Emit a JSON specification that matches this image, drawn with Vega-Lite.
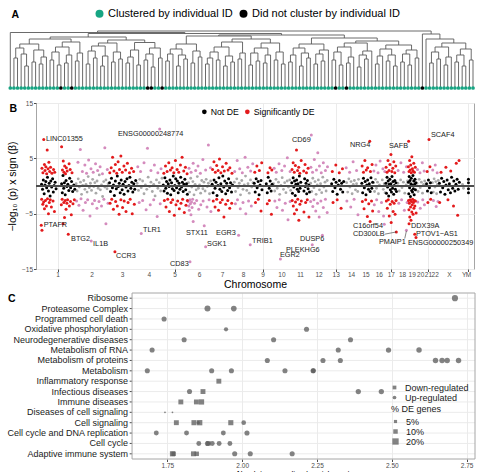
{
  "$schema": "https://vega.github.io/schema/vega-lite/v6.json",
  "padding": {"left": 6, "top": 8, "right": 0, "bottom": 0},
  "background": "white",
  "config": {
    "font": "Liberation Sans",
    "view": {"stroke": "#a6a6a6"},
    "axis": {"domain": false, "tickColor": "#4d4d4d", "gridColor": "#ebebeb", "labelColor": "#4d4d4d", "titleColor": "#000000", "titleFontWeight": "normal"},
    "legend": {"labelColor": "#1a1a1a"}
  },
  "resolve": {"scale": {"color": "independent", "size": "independent", "shape": "independent", "x": "independent", "y": "independent"}},
  "spacing": 2,
  "datasets": {
    "tree": [
      {"a":1,"b":2,"h":30,"ha":0,"hb":0},{"a":4,"b":5,"h":22,"ha":0,"hb":0},{"a":3,"b":4.5,"h":34,"ha":0,"hb":22},{"a":6,"b":7,"h":26,"ha":0,"hb":0},{"a":8,"b":9,"h":24,"ha":0,"hb":0},{"a":8.5,"b":10,"h":31,"ha":24,"hb":0},{"a":1.5,"b":3.75,"h":40,"ha":30,"hb":34},{"a":6.5,"b":9.25,"h":38,"ha":26,"hb":31},{"a":2.625,"b":7.875,"h":44,"ha":40,"hb":38},
      {"a":11,"b":12,"h":28,"ha":0,"hb":0},{"a":13,"b":14,"h":23,"ha":0,"hb":0},{"a":11.5,"b":13.5,"h":36,"ha":28,"hb":23},{"a":15,"b":16,"h":25,"ha":0,"hb":0},{"a":15.5,"b":17,"h":33,"ha":25,"hb":0},{"a":12.5,"b":16.25,"h":41,"ha":36,"hb":33},{"a":18,"b":19,"h":27,"ha":0,"hb":0},{"a":18.5,"b":20,"h":35,"ha":27,"hb":0},{"a":14.375,"b":19.25,"h":46,"ha":41,"hb":35},{"a":5.25,"b":16.8125,"h":49,"ha":44,"hb":46},
      {"a":21,"b":22,"h":24,"ha":0,"hb":0},{"a":23,"b":24,"h":30,"ha":0,"hb":0},{"a":21.5,"b":23.5,"h":37,"ha":24,"hb":30},{"a":25,"b":26,"h":22,"ha":0,"hb":0},{"a":25.5,"b":27,"h":32,"ha":22,"hb":0},{"a":22.5,"b":26.25,"h":42,"ha":37,"hb":32},{"a":28,"b":29,"h":26,"ha":0,"hb":0},{"a":30,"b":31,"h":29,"ha":0,"hb":0},{"a":28.5,"b":30.5,"h":36,"ha":26,"hb":29},{"a":24.375,"b":29.5,"h":45,"ha":42,"hb":36},
      {"a":32,"b":33,"h":25,"ha":0,"hb":0},{"a":32.5,"b":34,"h":31,"ha":25,"hb":0},{"a":35,"b":36,"h":23,"ha":0,"hb":0},{"a":33.25,"b":35.5,"h":38,"ha":31,"hb":23},{"a":37,"b":38,"h":28,"ha":0,"hb":0},{"a":39,"b":40,"h":21,"ha":0,"hb":0},{"a":37.5,"b":39.5,"h":34,"ha":28,"hb":21},{"a":41,"b":42,"h":30,"ha":0,"hb":0},{"a":38.5,"b":41.5,"h":40,"ha":34,"hb":30},{"a":34.375,"b":40,"h":45.5,"ha":38,"hb":40},{"a":26.9375,"b":37.1875,"h":48,"ha":45,"hb":45.5},{"a":11.03125,"b":32.0625,"h":51,"ha":49,"hb":48},
      {"a":43,"b":44,"h":27,"ha":0,"hb":0},{"a":43.5,"b":45,"h":34,"ha":27,"hb":0},{"a":46,"b":47,"h":22,"ha":0,"hb":0},{"a":48,"b":49,"h":29,"ha":0,"hb":0},{"a":46.5,"b":48.5,"h":33,"ha":22,"hb":29},{"a":44.25,"b":47.5,"h":39,"ha":34,"hb":33},{"a":50,"b":51,"h":25,"ha":0,"hb":0},{"a":52,"b":53,"h":31,"ha":0,"hb":0},{"a":50.5,"b":52.5,"h":37,"ha":25,"hb":31},{"a":45.875,"b":51.5,"h":44,"ha":39,"hb":37},
      {"a":54,"b":55,"h":24,"ha":0,"hb":0},{"a":54.5,"b":56,"h":30,"ha":24,"hb":0},{"a":57,"b":58,"h":28,"ha":0,"hb":0},{"a":55.25,"b":57.5,"h":36,"ha":30,"hb":28},{"a":59,"b":60,"h":22,"ha":0,"hb":0},{"a":61,"b":62,"h":26,"ha":0,"hb":0},{"a":59.5,"b":61.5,"h":32,"ha":22,"hb":26},{"a":56.375,"b":60.5,"h":41,"ha":36,"hb":32},{"a":63,"b":64,"h":29,"ha":0,"hb":0},{"a":63.5,"b":65,"h":35,"ha":29,"hb":0},{"a":58.4375,"b":64.25,"h":46,"ha":41,"hb":35},
      {"a":66,"b":67,"h":23,"ha":0,"hb":0},{"a":68,"b":69,"h":27,"ha":0,"hb":0},{"a":66.5,"b":68.5,"h":35,"ha":23,"hb":27},{"a":70,"b":71,"h":25,"ha":0,"hb":0},{"a":70.5,"b":72,"h":33,"ha":25,"hb":0},{"a":67.5,"b":71.25,"h":40,"ha":35,"hb":33},{"a":73,"b":74,"h":28,"ha":0,"hb":0},{"a":75,"b":76,"h":24,"ha":0,"hb":0},{"a":73.5,"b":75.5,"h":36,"ha":28,"hb":24},{"a":69.375,"b":74.5,"h":45,"ha":40,"hb":36},{"a":61.34375,"b":71.9375,"h":49,"ha":46,"hb":45},{"a":48.6875,"b":66.640625,"h":52,"ha":44,"hb":49},
      {"a":77,"b":78,"h":26,"ha":0,"hb":0},{"a":77.5,"b":79,"h":33,"ha":26,"hb":0},{"a":80,"b":81,"h":22,"ha":0,"hb":0},{"a":82,"b":83,"h":30,"ha":0,"hb":0},{"a":80.5,"b":82.5,"h":35,"ha":22,"hb":30},{"a":78.25,"b":81.5,"h":40,"ha":33,"hb":35},{"a":84,"b":85,"h":24,"ha":0,"hb":0},{"a":86,"b":87,"h":27,"ha":0,"hb":0},{"a":84.5,"b":86.5,"h":34,"ha":24,"hb":27},{"a":85.5,"b":88,"h":38,"ha":34,"hb":0},{"a":79.875,"b":86.75,"h":44,"ha":40,"hb":38},
      {"a":89,"b":90,"h":28,"ha":0,"hb":0},{"a":91,"b":92,"h":23,"ha":0,"hb":0},{"a":89.5,"b":91.5,"h":36,"ha":28,"hb":23},{"a":93,"b":94,"h":25,"ha":0,"hb":0},{"a":93.5,"b":95,"h":31,"ha":25,"hb":0},{"a":90.5,"b":94.25,"h":41,"ha":36,"hb":31},{"a":96,"b":97,"h":21,"ha":0,"hb":0},{"a":98,"b":99,"h":29,"ha":0,"hb":0},{"a":96.5,"b":98.5,"h":33,"ha":21,"hb":29},{"a":97.5,"b":100,"h":37,"ha":33,"hb":0},{"a":92.375,"b":98.75,"h":45,"ha":41,"hb":37},
      {"a":101,"b":102,"h":24,"ha":0,"hb":0},{"a":101.5,"b":103,"h":32,"ha":24,"hb":0},{"a":104,"b":105,"h":27,"ha":0,"hb":0},{"a":106,"b":107,"h":22,"ha":0,"hb":0},{"a":104.5,"b":106.5,"h":33,"ha":27,"hb":22},{"a":102.25,"b":105.5,"h":39,"ha":32,"hb":33},{"a":108,"b":109,"h":26,"ha":0,"hb":0},{"a":110,"b":111,"h":23,"ha":0,"hb":0},{"a":108.5,"b":110.5,"h":34,"ha":26,"hb":23},{"a":112,"b":113,"h":30,"ha":0,"hb":0},{"a":109.5,"b":112.5,"h":38,"ha":34,"hb":30},{"a":103.875,"b":111,"h":43,"ha":39,"hb":38},{"a":95.5625,"b":107.4375,"h":47,"ha":45,"hb":43},{"a":83.3125,"b":101.5,"h":50,"ha":44,"hb":47},{"a":57.6640625,"b":92.40625,"h":53,"ha":52,"hb":50},{"a":21.546875,"b":75.035,"h":54.5,"ha":51,"hb":53},{"a":0,"b":48.29,"h":55.5,"ha":0,"hb":54.5},
      {"a":116,"b":117,"h":25,"ha":0,"hb":0},{"a":118,"b":119,"h":29,"ha":0,"hb":0},{"a":116.5,"b":118.5,"h":36,"ha":25,"hb":29},{"a":120,"b":121,"h":23,"ha":0,"hb":0},{"a":120.5,"b":122,"h":31,"ha":23,"hb":0},{"a":117.5,"b":121.25,"h":41,"ha":36,"hb":31},{"a":123,"b":124,"h":26,"ha":0,"hb":0},{"a":125,"b":126,"h":22,"ha":0,"hb":0},{"a":123.5,"b":125.5,"h":33,"ha":26,"hb":22},{"a":127,"b":128,"h":28,"ha":0,"hb":0},{"a":124.5,"b":127.5,"h":39,"ha":33,"hb":28},{"a":119.375,"b":126,"h":45,"ha":41,"hb":39},{"a":115,"b":122.6875,"h":49,"ha":0,"hb":45},{"a":114,"b":118.84375,"h":54,"ha":0,"hb":49},{"a":24.145,"b":116.42,"h":57,"ha":55.5,"hb":54}
    ],
    "leaves": [
      {"i":0,"g":"y"},{"i":1,"g":"y"},{"i":2,"g":"y"},{"i":3,"g":"y"},{"i":4,"g":"y"},{"i":5,"g":"y"},{"i":6,"g":"y"},{"i":7,"g":"y"},{"i":8,"g":"y"},{"i":9,"g":"y"},
      {"i":10,"g":"y"},{"i":11,"g":"y"},{"i":12,"g":"y"},{"i":13,"g":"y"},{"i":14,"g":"n"},{"i":15,"g":"y"},{"i":16,"g":"y"},{"i":17,"g":"n"},{"i":18,"g":"y"},{"i":19,"g":"y"},
      {"i":20,"g":"y"},{"i":21,"g":"y"},{"i":22,"g":"y"},{"i":23,"g":"y"},{"i":24,"g":"y"},{"i":25,"g":"y"},{"i":26,"g":"y"},{"i":27,"g":"y"},{"i":28,"g":"y"},{"i":29,"g":"y"},
      {"i":30,"g":"y"},{"i":31,"g":"y"},{"i":32,"g":"y"},{"i":33,"g":"y"},{"i":34,"g":"y"},{"i":35,"g":"y"},{"i":36,"g":"y"},{"i":37,"g":"y"},{"i":38,"g":"n"},{"i":39,"g":"n"},
      {"i":40,"g":"y"},{"i":41,"g":"y"},{"i":42,"g":"n"},{"i":43,"g":"y"},{"i":44,"g":"y"},{"i":45,"g":"y"},{"i":46,"g":"y"},{"i":47,"g":"y"},{"i":48,"g":"y"},{"i":49,"g":"y"},
      {"i":50,"g":"y"},{"i":51,"g":"y"},{"i":52,"g":"y"},{"i":53,"g":"y"},{"i":54,"g":"y"},{"i":55,"g":"y"},{"i":56,"g":"y"},{"i":57,"g":"y"},{"i":58,"g":"y"},{"i":59,"g":"y"},
      {"i":60,"g":"y"},{"i":61,"g":"y"},{"i":62,"g":"y"},{"i":63,"g":"y"},{"i":64,"g":"y"},{"i":65,"g":"y"},{"i":66,"g":"y"},{"i":67,"g":"y"},{"i":68,"g":"y"},{"i":69,"g":"y"},
      {"i":70,"g":"y"},{"i":71,"g":"y"},{"i":72,"g":"y"},{"i":73,"g":"y"},{"i":74,"g":"y"},{"i":75,"g":"y"},{"i":76,"g":"y"},{"i":77,"g":"y"},{"i":78,"g":"y"},{"i":79,"g":"y"},
      {"i":80,"g":"y"},{"i":81,"g":"y"},{"i":82,"g":"y"},{"i":83,"g":"y"},{"i":84,"g":"y"},{"i":85,"g":"y"},{"i":86,"g":"y"},{"i":87,"g":"y"},{"i":88,"g":"y"},{"i":89,"g":"y"},
      {"i":90,"g":"n"},{"i":91,"g":"y"},{"i":92,"g":"y"},{"i":93,"g":"n"},{"i":94,"g":"y"},{"i":95,"g":"y"},{"i":96,"g":"y"},{"i":97,"g":"y"},{"i":98,"g":"y"},{"i":99,"g":"y"},
      {"i":100,"g":"y"},{"i":101,"g":"y"},{"i":102,"g":"y"},{"i":103,"g":"y"},{"i":104,"g":"y"},{"i":105,"g":"y"},{"i":106,"g":"y"},{"i":107,"g":"y"},{"i":108,"g":"y"},{"i":109,"g":"y"},
      {"i":110,"g":"y"},{"i":111,"g":"y"},{"i":112,"g":"y"},{"i":113,"g":"y"},{"i":114,"g":"n"},{"i":115,"g":"y"},{"i":116,"g":"y"},{"i":117,"g":"y"},{"i":118,"g":"y"},{"i":119,"g":"y"},
      {"i":120,"g":"y"},{"i":121,"g":"y"},{"i":122,"g":"y"},{"i":123,"g":"y"},{"i":124,"g":"y"},{"i":125,"g":"y"},{"i":126,"g":"y"},{"i":127,"g":"y"},{"i":128,"g":"y"}
    ],
    "chroms": [
      {"n":"1","m":124.5},{"n":"2","m":370},{"n":"3","m":590},{"n":"4","m":784},{"n":"5","m":970},{"n":"6","m":1146.5},{"n":"7","m":1311.5},{"n":"8","m":1463.5},{"n":"9","m":1605},{"n":"10","m":1741},{"n":"11","m":1875.5},{"n":"12","m":2009.5},{"n":"13","m":2133},
      {"n":"14","m":2243.5},{"n":"15","m":2348},{"n":"16","m":2444},{"n":"17","m":2530.5},{"n":"18","m":2612},{"n":"19","m":2681.5},{"n":"20","m":2743},{"n":"21","m":2798.5},{"n":"22","m":2847.5},{"n":"X","m":2951},{"n":"Y","m":3057.5},{"n":"M","m":3088}
    ],
    "snp": [
      {"c":1,"p":5,"v":0.3,"d":"N"},{"c":1,"p":12,"v":-0.6,"d":"N"},{"c":1,"p":18,"v":1.1,"d":"N"},{"c":1,"p":24,"v":-1.4,"d":"N"},{"c":1,"p":30,"v":0.2,"d":"N"},{"c":1,"p":36,"v":0.8,"d":"N"},{"c":1,"p":42,"v":-0.3,"d":"N"},{"c":1,"p":48,"v":1.6,"d":"N"},{"c":1,"p":55,"v":-0.9,"d":"N"},{"c":1,"p":60,"v":0.5,"d":"N"},{"c":1,"p":67,"v":-1.8,"d":"N"},{"c":1,"p":72,"v":0.9,"d":"N"},{"c":1,"p":78,"v":-0.2,"d":"N"},{"c":1,"p":85,"v":1.3,"d":"N"},{"c":1,"p":90,"v":-1.1,"d":"N"},{"c":1,"p":96,"v":0.1,"d":"N"},{"c":1,"p":103,"v":0.7,"d":"N"},{"c":1,"p":110,"v":-0.5,"d":"N"},{"c":1,"p":150,"v":0.4,"d":"N"},{"c":1,"p":155,"v":-1.2,"d":"N"},{"c":1,"p":160,"v":1.9,"d":"N"},{"c":1,"p":165,"v":-0.4,"d":"N"},{"c":1,"p":170,"v":0.6,"d":"N"},{"c":1,"p":176,"v":-1.6,"d":"N"},{"c":1,"p":182,"v":1.0,"d":"N"},{"c":1,"p":188,"v":-0.1,"d":"N"},{"c":1,"p":195,"v":0.3,"d":"N"},{"c":1,"p":202,"v":-0.8,"d":"N"},{"c":1,"p":208,"v":1.4,"d":"N"},{"c":1,"p":215,"v":-0.3,"d":"N"},{"c":1,"p":222,"v":0.8,"d":"N"},{"c":1,"p":230,"v":-1.0,"d":"N"},{"c":1,"p":238,"v":0.2,"d":"N"},{"c":1,"p":245,"v":-0.6,"d":"N"},
      {"c":2,"p":255,"v":0.4,"d":"N"},{"c":2,"p":262,"v":-0.9,"d":"N"},{"c":2,"p":270,"v":1.3,"d":"N"},{"c":2,"p":278,"v":-0.2,"d":"N"},{"c":2,"p":286,"v":0.7,"d":"N"},{"c":2,"p":294,"v":-1.5,"d":"N"},{"c":2,"p":302,"v":0.1,"d":"N"},{"c":2,"p":310,"v":1.0,"d":"N"},{"c":2,"p":318,"v":-0.6,"d":"N"},{"c":2,"p":326,"v":0.3,"d":"N"},{"c":2,"p":334,"v":-1.1,"d":"N"},{"c":2,"p":342,"v":1.7,"d":"N"},{"c":2,"p":350,"v":-0.3,"d":"N"},{"c":2,"p":358,"v":0.5,"d":"N"},{"c":2,"p":366,"v":-0.8,"d":"N"},{"c":2,"p":374,"v":1.2,"d":"N"},{"c":2,"p":382,"v":-0.1,"d":"N"},{"c":2,"p":390,"v":0.6,"d":"N"},{"c":2,"p":398,"v":-1.3,"d":"N"},{"c":2,"p":406,"v":0.9,"d":"N"},{"c":2,"p":414,"v":-0.4,"d":"N"},{"c":2,"p":422,"v":2.0,"d":"N"},{"c":2,"p":430,"v":-0.7,"d":"N"},{"c":2,"p":438,"v":0.2,"d":"N"},{"c":2,"p":446,"v":-1.9,"d":"N"},{"c":2,"p":454,"v":0.8,"d":"N"},{"c":2,"p":462,"v":-0.2,"d":"N"},{"c":2,"p":470,"v":1.1,"d":"N"},{"c":2,"p":478,"v":-0.5,"d":"N"},{"c":2,"p":486,"v":0.4,"d":"N"},
      {"c":3,"p":496,"v":0.6,"d":"N"},{"c":3,"p":503,"v":-1.0,"d":"N"},{"c":3,"p":510,"v":1.4,"d":"N"},{"c":3,"p":517,"v":-0.3,"d":"N"},{"c":3,"p":524,"v":0.2,"d":"N"},{"c":3,"p":531,"v":-1.7,"d":"N"},{"c":3,"p":538,"v":0.9,"d":"N"},{"c":3,"p":545,"v":-0.5,"d":"N"},{"c":3,"p":552,"v":1.8,"d":"N"},{"c":3,"p":559,"v":-0.1,"d":"N"},{"c":3,"p":566,"v":0.5,"d":"N"},{"c":3,"p":573,"v":-1.2,"d":"N"},{"c":3,"p":580,"v":1.1,"d":"N"},{"c":3,"p":587,"v":-0.7,"d":"N"},{"c":3,"p":594,"v":0.3,"d":"N"},{"c":3,"p":601,"v":-1.5,"d":"N"},{"c":3,"p":608,"v":0.8,"d":"N"},{"c":3,"p":615,"v":-0.2,"d":"N"},{"c":3,"p":622,"v":1.3,"d":"N"},{"c":3,"p":629,"v":-0.9,"d":"N"},{"c":3,"p":636,"v":0.1,"d":"N"},{"c":3,"p":643,"v":1.6,"d":"N"},{"c":3,"p":650,"v":-0.4,"d":"N"},{"c":3,"p":657,"v":0.7,"d":"N"},{"c":3,"p":664,"v":-1.1,"d":"N"},{"c":3,"p":671,"v":0.4,"d":"N"},{"c":3,"p":678,"v":-0.6,"d":"N"},{"c":3,"p":685,"v":1.0,"d":"N"},
      {"c":4,"p":695,"v":0.5,"d":"N"},{"c":4,"p":705,"v":-0.8,"d":"N"},{"c":4,"p":715,"v":1.2,"d":"N"},{"c":4,"p":725,"v":-0.3,"d":"N"},{"c":4,"p":735,"v":0.9,"d":"N"},{"c":4,"p":745,"v":-1.4,"d":"N"},{"c":4,"p":755,"v":0.2,"d":"N"},{"c":4,"p":765,"v":-0.6,"d":"N"},{"c":4,"p":775,"v":1.6,"d":"N"},{"c":4,"p":785,"v":-0.1,"d":"N"},{"c":4,"p":795,"v":0.7,"d":"N"},{"c":4,"p":805,"v":-1.0,"d":"N"},{"c":4,"p":815,"v":0.3,"d":"N"},{"c":4,"p":825,"v":-1.8,"d":"N"},{"c":4,"p":835,"v":1.1,"d":"N"},{"c":4,"p":845,"v":-0.4,"d":"N"},{"c":4,"p":855,"v":0.6,"d":"N"},{"c":4,"p":865,"v":-0.9,"d":"N"},{"c":4,"p":875,"v":1.4,"d":"N"},
      {"c":5,"p":884,"v":0.2,"d":"N"},{"c":5,"p":890,"v":-0.9,"d":"N"},{"c":5,"p":896,"v":1.5,"d":"N"},{"c":5,"p":902,"v":-0.4,"d":"N"},{"c":5,"p":908,"v":0.8,"d":"N"},{"c":5,"p":914,"v":-1.3,"d":"N"},{"c":5,"p":920,"v":0.4,"d":"N"},{"c":5,"p":926,"v":-0.1,"d":"N"},{"c":5,"p":932,"v":1.1,"d":"N"},{"c":5,"p":938,"v":-1.6,"d":"N"},{"c":5,"p":944,"v":0.6,"d":"N"},{"c":5,"p":950,"v":-0.5,"d":"N"},{"c":5,"p":956,"v":1.8,"d":"N"},{"c":5,"p":962,"v":-0.8,"d":"N"},{"c":5,"p":968,"v":0.1,"d":"N"},{"c":5,"p":974,"v":1.3,"d":"N"},{"c":5,"p":980,"v":-0.3,"d":"N"},{"c":5,"p":986,"v":0.9,"d":"N"},{"c":5,"p":992,"v":-1.2,"d":"N"},{"c":5,"p":998,"v":0.5,"d":"N"},{"c":5,"p":1004,"v":-0.6,"d":"N"},{"c":5,"p":1010,"v":1.6,"d":"N"},{"c":5,"p":1016,"v":-0.2,"d":"N"},{"c":5,"p":1022,"v":0.7,"d":"N"},{"c":5,"p":1028,"v":-1.0,"d":"N"},{"c":5,"p":1034,"v":0.3,"d":"N"},{"c":5,"p":1040,"v":1.2,"d":"N"},{"c":5,"p":1046,"v":-0.7,"d":"N"},{"c":5,"p":1052,"v":0.4,"d":"N"},{"c":5,"p":1058,"v":-1.5,"d":"N"},
      {"c":6,"p":1066,"v":0.6,"d":"N"},{"c":6,"p":1074,"v":-1.1,"d":"N"},{"c":6,"p":1082,"v":1.4,"d":"N"},{"c":6,"p":1090,"v":-0.2,"d":"N"},{"c":6,"p":1098,"v":0.8,"d":"N"},{"c":6,"p":1106,"v":-1.6,"d":"N"},{"c":6,"p":1114,"v":0.3,"d":"N"},{"c":6,"p":1122,"v":-0.7,"d":"N"},{"c":6,"p":1130,"v":1.7,"d":"N"},{"c":6,"p":1138,"v":-0.4,"d":"N"},{"c":6,"p":1146,"v":0.2,"d":"N"},{"c":6,"p":1154,"v":-1.3,"d":"N"},{"c":6,"p":1162,"v":1.0,"d":"N"},{"c":6,"p":1170,"v":-0.5,"d":"N"},{"c":6,"p":1178,"v":0.7,"d":"N"},{"c":6,"p":1186,"v":-0.9,"d":"N"},{"c":6,"p":1194,"v":1.2,"d":"N"},{"c":6,"p":1202,"v":-0.1,"d":"N"},{"c":6,"p":1210,"v":0.5,"d":"N"},{"c":6,"p":1218,"v":-1.4,"d":"N"},{"c":6,"p":1226,"v":0.9,"d":"N"},
      {"c":7,"p":1237,"v":0.3,"d":"N"},{"c":7,"p":1244,"v":-1.2,"d":"N"},{"c":7,"p":1251,"v":1.1,"d":"N"},{"c":7,"p":1258,"v":-0.4,"d":"N"},{"c":7,"p":1265,"v":0.7,"d":"N"},{"c":7,"p":1272,"v":-1.7,"d":"N"},{"c":7,"p":1279,"v":0.1,"d":"N"},{"c":7,"p":1286,"v":1.5,"d":"N"},{"c":7,"p":1293,"v":-0.6,"d":"N"},{"c":7,"p":1300,"v":0.4,"d":"N"},{"c":7,"p":1307,"v":-1.0,"d":"N"},{"c":7,"p":1314,"v":1.8,"d":"N"},{"c":7,"p":1321,"v":-0.2,"d":"N"},{"c":7,"p":1328,"v":0.9,"d":"N"},{"c":7,"p":1335,"v":-1.4,"d":"N"},{"c":7,"p":1342,"v":0.5,"d":"N"},{"c":7,"p":1349,"v":-0.8,"d":"N"},{"c":7,"p":1356,"v":1.3,"d":"N"},{"c":7,"p":1363,"v":-0.3,"d":"N"},{"c":7,"p":1370,"v":0.6,"d":"N"},{"c":7,"p":1377,"v":-1.1,"d":"N"},{"c":7,"p":1384,"v":0.2,"d":"N"},
      {"c":8,"p":1397,"v":0.7,"d":"N"},{"c":8,"p":1406,"v":-1.0,"d":"N"},{"c":8,"p":1415,"v":1.3,"d":"N"},{"c":8,"p":1424,"v":-0.3,"d":"N"},{"c":8,"p":1433,"v":0.5,"d":"N"},{"c":8,"p":1442,"v":-1.6,"d":"N"},{"c":8,"p":1451,"v":1.0,"d":"N"},{"c":8,"p":1460,"v":-0.6,"d":"N"},{"c":8,"p":1469,"v":0.2,"d":"N"},{"c":8,"p":1478,"v":1.8,"d":"N"},{"c":8,"p":1487,"v":-0.8,"d":"N"},{"c":8,"p":1496,"v":0.4,"d":"N"},{"c":8,"p":1505,"v":-1.3,"d":"N"},{"c":8,"p":1514,"v":1.1,"d":"N"},{"c":8,"p":1523,"v":-0.2,"d":"N"},{"c":8,"p":1532,"v":0.6,"d":"N"},
      {"c":9,"p":1541,"v":0.5,"d":"N"},{"c":9,"p":1548,"v":-1.1,"d":"N"},{"c":9,"p":1555,"v":1.3,"d":"N"},{"c":9,"p":1562,"v":-0.3,"d":"N"},{"c":9,"p":1569,"v":0.8,"d":"N"},{"c":9,"p":1576,"v":-1.6,"d":"N"},{"c":9,"p":1583,"v":0.2,"d":"N"},{"c":9,"p":1590,"v":1.0,"d":"N"},{"c":9,"p":1597,"v":-0.7,"d":"N"},{"c":9,"p":1628,"v":0.4,"d":"N"},{"c":9,"p":1635,"v":-1.2,"d":"N"},{"c":9,"p":1642,"v":1.6,"d":"N"},{"c":9,"p":1649,"v":-0.4,"d":"N"},{"c":9,"p":1656,"v":0.9,"d":"N"},{"c":9,"p":1663,"v":-0.9,"d":"N"},{"c":9,"p":1670,"v":0.3,"d":"N"},
      {"c":10,"p":1680,"v":0.4,"d":"N"},{"c":10,"p":1689,"v":-0.9,"d":"N"},{"c":10,"p":1698,"v":1.2,"d":"N"},{"c":10,"p":1707,"v":-0.4,"d":"N"},{"c":10,"p":1716,"v":0.7,"d":"N"},{"c":10,"p":1725,"v":-1.5,"d":"N"},{"c":10,"p":1734,"v":0.1,"d":"N"},{"c":10,"p":1743,"v":1.5,"d":"N"},{"c":10,"p":1752,"v":-0.6,"d":"N"},{"c":10,"p":1761,"v":0.6,"d":"N"},{"c":10,"p":1770,"v":-1.2,"d":"N"},{"c":10,"p":1779,"v":0.9,"d":"N"},{"c":10,"p":1788,"v":-0.2,"d":"N"},{"c":10,"p":1797,"v":1.1,"d":"N"},{"c":10,"p":1804,"v":-0.8,"d":"N"},
      {"c":11,"p":1812,"v":0.6,"d":"N"},{"c":11,"p":1817,"v":-1.3,"d":"N"},{"c":11,"p":1822,"v":1.5,"d":"N"},{"c":11,"p":1827,"v":-0.2,"d":"N"},{"c":11,"p":1832,"v":0.9,"d":"N"},{"c":11,"p":1837,"v":-1.7,"d":"N"},{"c":11,"p":1842,"v":0.3,"d":"N"},{"c":11,"p":1847,"v":1.1,"d":"N"},{"c":11,"p":1852,"v":-0.6,"d":"N"},{"c":11,"p":1857,"v":0.4,"d":"N"},{"c":11,"p":1862,"v":-1.0,"d":"N"},{"c":11,"p":1867,"v":1.8,"d":"N"},{"c":11,"p":1872,"v":-0.4,"d":"N"},{"c":11,"p":1877,"v":0.7,"d":"N"},{"c":11,"p":1900,"v":-0.9,"d":"N"},{"c":11,"p":1905,"v":1.3,"d":"N"},{"c":11,"p":1910,"v":-0.1,"d":"N"},{"c":11,"p":1915,"v":0.5,"d":"N"},{"c":11,"p":1920,"v":-1.4,"d":"N"},{"c":11,"p":1925,"v":1.0,"d":"N"},{"c":11,"p":1930,"v":-0.5,"d":"N"},{"c":11,"p":1935,"v":0.2,"d":"N"},{"c":11,"p":1940,"v":-1.1,"d":"N"},
      {"c":12,"p":1948,"v":0.5,"d":"N"},{"c":12,"p":1956,"v":-1.0,"d":"N"},{"c":12,"p":1964,"v":1.4,"d":"N"},{"c":12,"p":1972,"v":-0.3,"d":"N"},{"c":12,"p":1980,"v":0.8,"d":"N"},{"c":12,"p":1988,"v":-1.5,"d":"N"},{"c":12,"p":1996,"v":0.2,"d":"N"},{"c":12,"p":2004,"v":1.1,"d":"N"},{"c":12,"p":2012,"v":-0.7,"d":"N"},{"c":12,"p":2020,"v":0.4,"d":"N"},{"c":12,"p":2028,"v":-1.2,"d":"N"},{"c":12,"p":2036,"v":1.6,"d":"N"},{"c":12,"p":2044,"v":-0.2,"d":"N"},{"c":12,"p":2052,"v":0.7,"d":"N"},{"c":12,"p":2060,"v":-0.9,"d":"N"},{"c":12,"p":2068,"v":1.0,"d":"N"},
      {"c":13,"p":2100,"v":0.4,"d":"N"},{"c":13,"p":2108,"v":-1.0,"d":"N"},{"c":13,"p":2116,"v":1.2,"d":"N"},{"c":13,"p":2124,"v":-0.3,"d":"N"},{"c":13,"p":2132,"v":0.7,"d":"N"},{"c":13,"p":2140,"v":-1.5,"d":"N"},{"c":13,"p":2148,"v":0.2,"d":"N"},{"c":13,"p":2156,"v":1.0,"d":"N"},{"c":13,"p":2164,"v":-0.6,"d":"N"},{"c":13,"p":2172,"v":0.5,"d":"N"},{"c":13,"p":2180,"v":-1.1,"d":"N"},{"c":13,"p":2187,"v":0.8,"d":"N"},
      {"c":14,"p":2208,"v":0.6,"d":"N"},{"c":14,"p":2216,"v":-1.1,"d":"N"},{"c":14,"p":2224,"v":1.3,"d":"N"},{"c":14,"p":2232,"v":-0.2,"d":"N"},{"c":14,"p":2240,"v":0.8,"d":"N"},{"c":14,"p":2248,"v":-1.4,"d":"N"},{"c":14,"p":2256,"v":0.3,"d":"N"},{"c":14,"p":2264,"v":1.0,"d":"N"},{"c":14,"p":2272,"v":-0.7,"d":"N"},{"c":14,"p":2280,"v":0.4,"d":"N"},{"c":14,"p":2288,"v":-1.0,"d":"N"},{"c":14,"p":2294,"v":1.2,"d":"N"},
      {"c":15,"p":2318,"v":0.5,"d":"N"},{"c":15,"p":2324,"v":-1.2,"d":"N"},{"c":15,"p":2330,"v":1.4,"d":"N"},{"c":15,"p":2336,"v":-0.3,"d":"N"},{"c":15,"p":2342,"v":0.8,"d":"N"},{"c":15,"p":2348,"v":-1.6,"d":"N"},{"c":15,"p":2354,"v":0.2,"d":"N"},{"c":15,"p":2360,"v":1.1,"d":"N"},{"c":15,"p":2366,"v":-0.6,"d":"N"},{"c":15,"p":2372,"v":0.4,"d":"N"},{"c":15,"p":2378,"v":-1.0,"d":"N"},{"c":15,"p":2384,"v":1.5,"d":"N"},{"c":15,"p":2390,"v":-0.4,"d":"N"},{"c":15,"p":2396,"v":0.7,"d":"N"},
      {"c":16,"p":2403,"v":0.6,"d":"N"},{"c":16,"p":2410,"v":-1.0,"d":"N"},{"c":16,"p":2417,"v":1.2,"d":"N"},{"c":16,"p":2424,"v":-0.4,"d":"N"},{"c":16,"p":2431,"v":0.7,"d":"N"},{"c":16,"p":2438,"v":-1.4,"d":"N"},{"c":16,"p":2445,"v":0.2,"d":"N"},{"c":16,"p":2466,"v":1.1,"d":"N"},{"c":16,"p":2473,"v":-0.6,"d":"N"},{"c":16,"p":2480,"v":0.4,"d":"N"},{"c":16,"p":2486,"v":-1.2,"d":"N"},
      {"c":17,"p":2492,"v":0.5,"d":"N"},{"c":17,"p":2496,"v":-1.3,"d":"N"},{"c":17,"p":2500,"v":1.6,"d":"N"},{"c":17,"p":2504,"v":-0.2,"d":"N"},{"c":17,"p":2508,"v":0.9,"d":"N"},{"c":17,"p":2512,"v":-1.8,"d":"N"},{"c":17,"p":2516,"v":0.3,"d":"N"},{"c":17,"p":2520,"v":1.2,"d":"N"},{"c":17,"p":2524,"v":-0.7,"d":"N"},{"c":17,"p":2528,"v":0.4,"d":"N"},{"c":17,"p":2532,"v":-1.1,"d":"N"},{"c":17,"p":2536,"v":1.7,"d":"N"},{"c":17,"p":2540,"v":-0.4,"d":"N"},{"c":17,"p":2544,"v":0.8,"d":"N"},{"c":17,"p":2548,"v":-1.5,"d":"N"},{"c":17,"p":2552,"v":0.1,"d":"N"},{"c":17,"p":2556,"v":1.0,"d":"N"},{"c":17,"p":2560,"v":-0.6,"d":"N"},{"c":17,"p":2564,"v":0.6,"d":"N"},{"c":17,"p":2568,"v":-1.0,"d":"N"},
      {"c":18,"p":2578,"v":0.5,"d":"N"},{"c":18,"p":2588,"v":-0.9,"d":"N"},{"c":18,"p":2598,"v":1.1,"d":"N"},{"c":18,"p":2608,"v":-0.3,"d":"N"},{"c":18,"p":2618,"v":0.7,"d":"N"},{"c":18,"p":2628,"v":-1.3,"d":"N"},{"c":18,"p":2638,"v":0.2,"d":"N"},{"c":18,"p":2648,"v":0.9,"d":"N"},
      {"c":19,"p":2654,"v":0.7,"d":"N"},{"c":19,"p":2657,"v":-1.4,"d":"N"},{"c":19,"p":2660,"v":1.7,"d":"N"},{"c":19,"p":2663,"v":-0.3,"d":"N"},{"c":19,"p":2666,"v":1.0,"d":"N"},{"c":19,"p":2669,"v":-1.9,"d":"N"},{"c":19,"p":2672,"v":0.4,"d":"N"},{"c":19,"p":2675,"v":1.4,"d":"N"},{"c":19,"p":2678,"v":-0.8,"d":"N"},{"c":19,"p":2681,"v":0.2,"d":"N"},{"c":19,"p":2684,"v":-1.1,"d":"N"},{"c":19,"p":2687,"v":1.9,"d":"N"},{"c":19,"p":2690,"v":-0.5,"d":"N"},{"c":19,"p":2693,"v":0.9,"d":"N"},{"c":19,"p":2696,"v":-1.6,"d":"N"},{"c":19,"p":2699,"v":0.3,"d":"N"},{"c":19,"p":2702,"v":1.2,"d":"N"},{"c":19,"p":2705,"v":-0.7,"d":"N"},{"c":19,"p":2708,"v":0.6,"d":"N"},
      {"c":20,"p":2716,"v":0.5,"d":"N"},{"c":20,"p":2724,"v":-1.0,"d":"N"},{"c":20,"p":2732,"v":1.2,"d":"N"},{"c":20,"p":2740,"v":-0.3,"d":"N"},{"c":20,"p":2748,"v":0.7,"d":"N"},{"c":20,"p":2756,"v":-1.3,"d":"N"},{"c":20,"p":2764,"v":0.3,"d":"N"},{"c":20,"p":2772,"v":0.9,"d":"N"},
      {"c":21,"p":2785,"v":0.4,"d":"N"},{"c":21,"p":2792,"v":-0.9,"d":"N"},{"c":21,"p":2799,"v":1.1,"d":"N"},{"c":21,"p":2806,"v":-0.3,"d":"N"},{"c":21,"p":2813,"v":0.6,"d":"N"},{"c":21,"p":2819,"v":-1.2,"d":"N"},
      {"c":22,"p":2828,"v":0.6,"d":"N"},{"c":22,"p":2834,"v":-1.1,"d":"N"},{"c":22,"p":2840,"v":1.3,"d":"N"},{"c":22,"p":2846,"v":-0.2,"d":"N"},{"c":22,"p":2852,"v":0.8,"d":"N"},{"c":22,"p":2858,"v":-1.4,"d":"N"},{"c":22,"p":2864,"v":0.3,"d":"N"},{"c":22,"p":2870,"v":1.0,"d":"N"},
      {"c":23,"p":2878,"v":0.5,"d":"N"},{"c":23,"p":2886,"v":-1.1,"d":"N"},{"c":23,"p":2894,"v":1.4,"d":"N"},{"c":23,"p":2902,"v":-0.3,"d":"N"},{"c":23,"p":2910,"v":0.8,"d":"N"},{"c":23,"p":2918,"v":-1.5,"d":"N"},{"c":23,"p":2926,"v":0.2,"d":"N"},{"c":23,"p":2934,"v":1.1,"d":"N"},{"c":23,"p":2942,"v":-0.7,"d":"N"},{"c":23,"p":2950,"v":0.4,"d":"N"},{"c":23,"p":2958,"v":-1.2,"d":"N"},{"c":23,"p":2966,"v":1.6,"d":"N"},{"c":23,"p":2974,"v":-0.4,"d":"N"},{"c":23,"p":2982,"v":0.9,"d":"N"},{"c":23,"p":2990,"v":-0.9,"d":"N"},{"c":23,"p":2998,"v":0.3,"d":"N"},{"c":23,"p":3006,"v":1.2,"d":"N"},{"c":23,"p":3014,"v":-0.6,"d":"N"},{"c":23,"p":3022,"v":0.7,"d":"N"},
      {"c":24,"p":3045,"v":0.3,"d":"N"},{"c":24,"p":3052,"v":-0.4,"d":"N"},
      {"c":25,"p":3088,"v":1.2,"d":"N"},{"c":25,"p":3088,"v":-1.2,"d":"N"},{"c":25,"p":3088,"v":0.6,"d":"N"},{"c":25,"p":3088,"v":-0.5,"d":"N"},
      {"c":1,"p":8,"v":3.2,"d":"S"},{"c":1,"p":15,"v":2.4,"d":"S"},{"c":1,"p":21,"v":8.4,"d":"S"},{"c":1,"p":26,"v":3.9,"d":"S"},{"c":1,"p":30,"v":2.8,"d":"S"},{"c":1,"p":36,"v":3.5,"d":"S"},{"c":1,"p":42,"v":2.2,"d":"S"},{"c":1,"p":46,"v":6.5,"d":"S"},{"c":1,"p":52,"v":3.1,"d":"S"},{"c":1,"p":58,"v":4.3,"d":"S"},{"c":1,"p":64,"v":2.6,"d":"S"},{"c":1,"p":70,"v":3.4,"d":"S"},{"c":1,"p":80,"v":2.3,"d":"S"},{"c":1,"p":92,"v":3.0,"d":"S"},{"c":1,"p":100,"v":2.5,"d":"S"},{"c":1,"p":150,"v":7.1,"d":"S"},{"c":1,"p":156,"v":2.9,"d":"S"},{"c":1,"p":162,"v":4.5,"d":"S"},{"c":1,"p":167,"v":2.5,"d":"S"},{"c":1,"p":172,"v":3.6,"d":"S"},{"c":1,"p":178,"v":2.2,"d":"S"},{"c":1,"p":184,"v":3.3,"d":"S"},{"c":1,"p":190,"v":2.7,"d":"S"},{"c":1,"p":204,"v":4.0,"d":"S"},{"c":1,"p":212,"v":3.0,"d":"S"},{"c":1,"p":225,"v":2.4,"d":"S"},
      {"c":1,"p":3,"v":-7.1,"d":"S"},{"c":1,"p":8,"v":-8.0,"d":"S"},{"c":1,"p":6,"v":-2.4,"d":"S"},{"c":1,"p":14,"v":-3.3,"d":"S"},{"c":1,"p":20,"v":-2.9,"d":"S"},{"c":1,"p":26,"v":-4.1,"d":"S"},{"c":1,"p":33,"v":-2.6,"d":"S"},{"c":1,"p":40,"v":-3.6,"d":"S"},{"c":1,"p":48,"v":-2.3,"d":"S"},{"c":1,"p":55,"v":-5.0,"d":"S"},{"c":1,"p":61,"v":-3.0,"d":"S"},{"c":1,"p":68,"v":-2.5,"d":"S"},{"c":1,"p":76,"v":-3.8,"d":"S"},{"c":1,"p":88,"v":-2.7,"d":"S"},{"c":1,"p":98,"v":-4.6,"d":"S"},{"c":1,"p":148,"v":-3.4,"d":"S"},{"c":1,"p":154,"v":-2.4,"d":"S"},{"c":1,"p":160,"v":-6.8,"d":"S"},{"c":1,"p":166,"v":-3.0,"d":"S"},{"c":1,"p":171,"v":-5.7,"d":"S"},{"c":1,"p":176,"v":-2.6,"d":"S"},{"c":1,"p":182,"v":-4.2,"d":"S"},{"c":1,"p":188,"v":-3.1,"d":"S"},{"c":1,"p":193,"v":-2.5,"d":"S"},{"c":1,"p":198,"v":-8.7,"d":"S"},{"c":1,"p":206,"v":-3.6,"d":"S"},{"c":1,"p":214,"v":-2.8,"d":"S"},{"c":1,"p":220,"v":-5.2,"d":"S"},{"c":1,"p":232,"v":-3.2,"d":"S"},{"c":1,"p":242,"v":-2.5,"d":"S"},
      {"c":2,"p":268,"v":4.3,"d":"S"},{"c":2,"p":285,"v":6.6,"d":"S"},{"c":2,"p":300,"v":2.6,"d":"S"},{"c":2,"p":318,"v":3.8,"d":"S"},{"c":2,"p":330,"v":2.3,"d":"S"},{"c":2,"p":345,"v":4.7,"d":"S"},{"c":2,"p":362,"v":3.1,"d":"S"},{"c":2,"p":378,"v":2.5,"d":"S"},{"c":2,"p":395,"v":4.0,"d":"S"},{"c":2,"p":410,"v":2.8,"d":"S"},{"c":2,"p":428,"v":3.5,"d":"S"},{"c":2,"p":445,"v":2.2,"d":"S"},{"c":2,"p":462,"v":6.9,"d":"S"},{"c":2,"p":480,"v":3.0,"d":"S"},
      {"c":2,"p":258,"v":-2.7,"d":"S"},{"c":2,"p":275,"v":-3.5,"d":"S"},{"c":2,"p":290,"v":-2.3,"d":"S"},{"c":2,"p":305,"v":-4.4,"d":"S"},{"c":2,"p":322,"v":-3.0,"d":"S"},{"c":2,"p":338,"v":-2.5,"d":"S"},{"c":2,"p":355,"v":-5.4,"d":"S"},{"c":2,"p":364,"v":-9.95,"d":"S"},{"c":2,"p":372,"v":-3.2,"d":"S"},{"c":2,"p":388,"v":-2.6,"d":"S"},{"c":2,"p":405,"v":-4.0,"d":"S"},{"c":2,"p":420,"v":-2.8,"d":"S"},{"c":2,"p":438,"v":-3.6,"d":"S"},{"c":2,"p":455,"v":-2.4,"d":"S"},{"c":2,"p":470,"v":-6.8,"d":"S"},{"c":2,"p":485,"v":-3.1,"d":"S"},
      {"c":3,"p":498,"v":2.4,"d":"S"},{"c":3,"p":508,"v":3.3,"d":"S"},{"c":3,"p":518,"v":5.2,"d":"S"},{"c":3,"p":528,"v":2.7,"d":"S"},{"c":3,"p":538,"v":3.9,"d":"S"},{"c":3,"p":548,"v":2.3,"d":"S"},{"c":3,"p":558,"v":4.4,"d":"S"},{"c":3,"p":568,"v":3.0,"d":"S"},{"c":3,"p":578,"v":5.4,"d":"S"},{"c":3,"p":588,"v":2.5,"d":"S"},{"c":3,"p":600,"v":3.6,"d":"S"},{"c":3,"p":612,"v":2.9,"d":"S"},{"c":3,"p":625,"v":4.1,"d":"S"},{"c":3,"p":640,"v":2.4,"d":"S"},{"c":3,"p":655,"v":3.2,"d":"S"},{"c":3,"p":670,"v":2.6,"d":"S"},
      {"c":3,"p":500,"v":-3.1,"d":"S"},{"c":3,"p":512,"v":-2.4,"d":"S"},{"c":3,"p":524,"v":-4.2,"d":"S"},{"c":3,"p":535,"v":-11.9,"d":"S"},{"c":3,"p":540,"v":-2.8,"d":"S"},{"c":3,"p":552,"v":-3.6,"d":"S"},{"c":3,"p":565,"v":-5.1,"d":"S"},{"c":3,"p":578,"v":-2.5,"d":"S"},{"c":3,"p":590,"v":-3.9,"d":"S"},{"c":3,"p":602,"v":-2.7,"d":"S"},{"c":3,"p":615,"v":-4.6,"d":"S"},{"c":3,"p":630,"v":-3.0,"d":"S"},{"c":3,"p":645,"v":-2.4,"d":"S"},{"c":3,"p":660,"v":-5.0,"d":"S"},{"c":3,"p":675,"v":-3.3,"d":"S"},
      {"c":4,"p":700,"v":3.5,"d":"S"},{"c":4,"p":720,"v":2.6,"d":"S"},{"c":4,"p":745,"v":4.2,"d":"S"},{"c":4,"p":770,"v":6.8,"d":"S"},{"c":4,"p":795,"v":2.8,"d":"S"},{"c":4,"p":820,"v":3.8,"d":"S"},{"c":4,"p":845,"v":2.4,"d":"S"},{"c":4,"p":858,"v":10.3,"d":"S"},{"c":4,"p":868,"v":3.1,"d":"S"},
      {"c":4,"p":710,"v":-3.0,"d":"S"},{"c":4,"p":725,"v":-8.6,"d":"S"},{"c":4,"p":735,"v":-2.6,"d":"S"},{"c":4,"p":760,"v":-4.3,"d":"S"},{"c":4,"p":790,"v":-3.4,"d":"S"},{"c":4,"p":815,"v":-2.5,"d":"S"},{"c":4,"p":840,"v":-5.5,"d":"S"},{"c":4,"p":862,"v":-3.2,"d":"S"},
      {"c":5,"p":888,"v":2.3,"d":"S"},{"c":5,"p":900,"v":3.6,"d":"S"},{"c":5,"p":912,"v":2.6,"d":"S"},{"c":5,"p":924,"v":4.2,"d":"S"},{"c":5,"p":936,"v":2.9,"d":"S"},{"c":5,"p":948,"v":3.3,"d":"S"},{"c":5,"p":960,"v":2.4,"d":"S"},{"c":5,"p":972,"v":4.6,"d":"S"},{"c":5,"p":984,"v":3.0,"d":"S"},{"c":5,"p":996,"v":2.5,"d":"S"},{"c":5,"p":1008,"v":3.8,"d":"S"},{"c":5,"p":1020,"v":5.2,"d":"S"},{"c":5,"p":1032,"v":2.7,"d":"S"},{"c":5,"p":1044,"v":3.4,"d":"S"},{"c":5,"p":1056,"v":2.2,"d":"S"},
      {"c":5,"p":892,"v":-2.6,"d":"S"},{"c":5,"p":904,"v":-3.8,"d":"S"},{"c":5,"p":916,"v":-2.4,"d":"S"},{"c":5,"p":928,"v":-4.6,"d":"S"},{"c":5,"p":940,"v":-3.0,"d":"S"},{"c":5,"p":952,"v":-2.5,"d":"S"},{"c":5,"p":964,"v":-5.3,"d":"S"},{"c":5,"p":976,"v":-3.4,"d":"S"},{"c":5,"p":988,"v":-2.7,"d":"S"},{"c":5,"p":1000,"v":-4.1,"d":"S"},{"c":5,"p":1012,"v":-3.1,"d":"S"},{"c":5,"p":1024,"v":-2.4,"d":"S"},{"c":5,"p":1036,"v":-4.8,"d":"S"},{"c":5,"p":1048,"v":-3.5,"d":"S"},{"c":5,"p":1058,"v":-2.6,"d":"S"},
      {"c":6,"p":1070,"v":3.2,"d":"S"},{"c":6,"p":1085,"v":2.5,"d":"S"},{"c":6,"p":1100,"v":4.1,"d":"S"},{"c":6,"p":1118,"v":2.8,"d":"S"},{"c":6,"p":1135,"v":3.6,"d":"S"},{"c":6,"p":1152,"v":2.3,"d":"S"},{"c":6,"p":1170,"v":4.8,"d":"S"},{"c":6,"p":1190,"v":2.9,"d":"S"},{"c":6,"p":1210,"v":7.4,"d":"S"},{"c":6,"p":1225,"v":3.3,"d":"S"},
      {"c":6,"p":1064,"v":-2.8,"d":"S"},{"c":6,"p":1068,"v":-3.6,"d":"S"},{"c":6,"p":1072,"v":-4.4,"d":"S"},{"c":6,"p":1076,"v":-2.5,"d":"S"},{"c":6,"p":1077,"v":-13.7,"d":"S"},{"c":6,"p":1080,"v":-3.2,"d":"S"},{"c":6,"p":1084,"v":-5.2,"d":"S"},{"c":6,"p":1088,"v":-2.9,"d":"S"},{"c":6,"p":1092,"v":-3.9,"d":"S"},{"c":6,"p":1096,"v":-2.4,"d":"S"},{"c":6,"p":1100,"v":-6.4,"d":"S"},{"c":6,"p":1110,"v":-3.1,"d":"S"},{"c":6,"p":1125,"v":-2.6,"d":"S"},{"c":6,"p":1140,"v":-4.2,"d":"S"},{"c":6,"p":1155,"v":-3.4,"d":"S"},{"c":6,"p":1180,"v":-7.2,"d":"S"},{"c":6,"p":1172,"v":-2.7,"d":"S"},{"c":6,"p":1190,"v":-11.0,"d":"S"},{"c":6,"p":1200,"v":-3.8,"d":"S"},{"c":6,"p":1215,"v":-2.5,"d":"S"},{"c":6,"p":1228,"v":-4.6,"d":"S"},
      {"c":7,"p":1240,"v":3.0,"d":"S"},{"c":7,"p":1250,"v":4.4,"d":"S"},{"c":7,"p":1260,"v":2.5,"d":"S"},{"c":7,"p":1270,"v":3.7,"d":"S"},{"c":7,"p":1280,"v":2.8,"d":"S"},{"c":7,"p":1290,"v":4.9,"d":"S"},{"c":7,"p":1300,"v":2.4,"d":"S"},{"c":7,"p":1312,"v":3.5,"d":"S"},{"c":7,"p":1325,"v":2.7,"d":"S"},{"c":7,"p":1338,"v":4.1,"d":"S"},{"c":7,"p":1352,"v":2.9,"d":"S"},{"c":7,"p":1365,"v":3.3,"d":"S"},{"c":7,"p":1380,"v":2.3,"d":"S"},
      {"c":7,"p":1245,"v":-2.7,"d":"S"},{"c":7,"p":1258,"v":-3.8,"d":"S"},{"c":7,"p":1270,"v":-2.4,"d":"S"},{"c":7,"p":1283,"v":-4.4,"d":"S"},{"c":7,"p":1296,"v":-3.0,"d":"S"},{"c":7,"p":1310,"v":-2.5,"d":"S"},{"c":7,"p":1322,"v":-5.6,"d":"S"},{"c":7,"p":1335,"v":-3.3,"d":"S"},{"c":7,"p":1350,"v":-2.6,"d":"S"},{"c":7,"p":1364,"v":-4.0,"d":"S"},{"c":7,"p":1378,"v":-3.1,"d":"S"},
      {"c":8,"p":1400,"v":2.6,"d":"S"},{"c":8,"p":1418,"v":4.6,"d":"S"},{"c":8,"p":1436,"v":3.1,"d":"S"},{"c":8,"p":1455,"v":2.4,"d":"S"},{"c":8,"p":1475,"v":5.2,"d":"S"},{"c":8,"p":1495,"v":3.4,"d":"S"},{"c":8,"p":1515,"v":2.7,"d":"S"},{"c":8,"p":1530,"v":4.0,"d":"S"},
      {"c":8,"p":1405,"v":-3.2,"d":"S"},{"c":8,"p":1420,"v":-2.5,"d":"S"},{"c":8,"p":1428,"v":-8.9,"d":"S"},{"c":8,"p":1440,"v":-4.1,"d":"S"},{"c":8,"p":1460,"v":-3.0,"d":"S"},{"c":8,"p":1480,"v":-5.0,"d":"S"},{"c":8,"p":1500,"v":-2.7,"d":"S"},{"c":8,"p":1512,"v":-10.6,"d":"S"},{"c":8,"p":1520,"v":-3.6,"d":"S"},
      {"c":9,"p":1545,"v":2.5,"d":"S"},{"c":9,"p":1560,"v":3.6,"d":"S"},{"c":9,"p":1578,"v":2.8,"d":"S"},{"c":9,"p":1595,"v":4.2,"d":"S"},{"c":9,"p":1640,"v":2.4,"d":"S"},{"c":9,"p":1655,"v":3.3,"d":"S"},{"c":9,"p":1668,"v":2.9,"d":"S"},
      {"c":9,"p":1550,"v":-3.0,"d":"S"},{"c":9,"p":1570,"v":-2.4,"d":"S"},{"c":9,"p":1590,"v":-4.5,"d":"S"},{"c":9,"p":1635,"v":-3.2,"d":"S"},{"c":9,"p":1650,"v":-2.6,"d":"S"},{"c":9,"p":1665,"v":-5.1,"d":"S"},
      {"c":10,"p":1685,"v":3.2,"d":"S"},{"c":10,"p":1700,"v":2.5,"d":"S"},{"c":10,"p":1720,"v":4.0,"d":"S"},{"c":10,"p":1740,"v":2.8,"d":"S"},{"c":10,"p":1760,"v":3.6,"d":"S"},{"c":10,"p":1780,"v":5.1,"d":"S"},{"c":10,"p":1800,"v":2.6,"d":"S"},
      {"c":10,"p":1690,"v":-2.7,"d":"S"},{"c":10,"p":1705,"v":-3.9,"d":"S"},{"c":10,"p":1722,"v":-2.5,"d":"S"},{"c":10,"p":1730,"v":-13.2,"d":"S"},{"c":10,"p":1745,"v":-4.4,"d":"S"},{"c":10,"p":1765,"v":-3.1,"d":"S"},{"c":10,"p":1785,"v":-6.1,"d":"S"},{"c":10,"p":1800,"v":-2.8,"d":"S"},
      {"c":11,"p":1814,"v":3.0,"d":"S"},{"c":11,"p":1822,"v":4.2,"d":"S"},{"c":11,"p":1830,"v":2.5,"d":"S"},{"c":11,"p":1838,"v":3.7,"d":"S"},{"c":11,"p":1846,"v":6.5,"d":"S"},{"c":11,"p":1854,"v":2.8,"d":"S"},{"c":11,"p":1862,"v":3.4,"d":"S"},{"c":11,"p":1870,"v":2.3,"d":"S"},{"c":11,"p":1880,"v":4.6,"d":"S"},{"c":11,"p":1898,"v":2.7,"d":"S"},{"c":11,"p":1908,"v":3.9,"d":"S"},{"c":11,"p":1918,"v":2.4,"d":"S"},{"c":11,"p":1930,"v":3.2,"d":"S"},
      {"c":11,"p":1815,"v":-2.6,"d":"S"},{"c":11,"p":1823,"v":-3.6,"d":"S"},{"c":11,"p":1831,"v":-5.0,"d":"S"},{"c":11,"p":1839,"v":-2.9,"d":"S"},{"c":11,"p":1847,"v":-4.3,"d":"S"},{"c":11,"p":1855,"v":-2.4,"d":"S"},{"c":11,"p":1863,"v":-6.2,"d":"S"},{"c":11,"p":1871,"v":-3.3,"d":"S"},{"c":11,"p":1881,"v":-2.7,"d":"S"},{"c":11,"p":1900,"v":-4.7,"d":"S"},{"c":11,"p":1912,"v":-3.0,"d":"S"},{"c":11,"p":1924,"v":-2.5,"d":"S"},{"c":11,"p":1936,"v":-5.6,"d":"S"},
      {"c":12,"p":1950,"v":3.4,"d":"S"},{"c":12,"p":1953,"v":9.2,"d":"S"},{"c":12,"p":1962,"v":2.5,"d":"S"},{"c":12,"p":1975,"v":4.8,"d":"S"},{"c":12,"p":1990,"v":2.9,"d":"S"},{"c":12,"p":2000,"v":6.0,"d":"S"},{"c":12,"p":2012,"v":3.6,"d":"S"},{"c":12,"p":2025,"v":2.4,"d":"S"},{"c":12,"p":2040,"v":4.2,"d":"S"},{"c":12,"p":2055,"v":2.8,"d":"S"},{"c":12,"p":2070,"v":3.5,"d":"S"},
      {"c":12,"p":1948,"v":-2.8,"d":"S"},{"c":12,"p":1960,"v":-10.6,"d":"S"},{"c":12,"p":1964,"v":-3.7,"d":"S"},{"c":12,"p":1972,"v":-2.5,"d":"S"},{"c":12,"p":1985,"v":-4.5,"d":"S"},{"c":12,"p":1998,"v":-3.1,"d":"S"},{"c":12,"p":2010,"v":-5.6,"d":"S"},{"c":12,"p":2022,"v":-2.7,"d":"S"},{"c":12,"p":2033,"v":-8.9,"d":"S"},{"c":12,"p":2040,"v":-3.9,"d":"S"},{"c":12,"p":2055,"v":-2.4,"d":"S"},{"c":12,"p":2068,"v":-4.8,"d":"S"},
      {"c":13,"p":2105,"v":2.6,"d":"S"},{"c":13,"p":2130,"v":3.8,"d":"S"},{"c":13,"p":2155,"v":2.4,"d":"S"},{"c":13,"p":2178,"v":3.1,"d":"S"},{"c":13,"p":2110,"v":-3.0,"d":"S"},{"c":13,"p":2140,"v":-2.5,"d":"S"},{"c":13,"p":2168,"v":-4.0,"d":"S"},
      {"c":14,"p":2205,"v":3.3,"d":"S"},{"c":14,"p":2230,"v":2.5,"d":"S"},{"c":14,"p":2255,"v":4.4,"d":"S"},{"c":14,"p":2280,"v":2.8,"d":"S"},{"c":14,"p":2210,"v":-2.7,"d":"S"},{"c":14,"p":2238,"v":-3.8,"d":"S"},{"c":14,"p":2262,"v":-2.4,"d":"S"},{"c":14,"p":2290,"v":-5.2,"d":"S"},
      {"c":15,"p":2320,"v":3.6,"d":"S"},{"c":15,"p":2330,"v":2.5,"d":"S"},{"c":15,"p":2340,"v":4.6,"d":"S"},{"c":15,"p":2350,"v":2.9,"d":"S"},{"c":15,"p":2360,"v":3.3,"d":"S"},{"c":15,"p":2375,"v":8.1,"d":"S"},{"c":15,"p":2380,"v":2.6,"d":"S"},{"c":15,"p":2392,"v":3.9,"d":"S"},
      {"c":15,"p":2322,"v":-2.8,"d":"S"},{"c":15,"p":2334,"v":-4.1,"d":"S"},{"c":15,"p":2346,"v":-2.5,"d":"S"},{"c":15,"p":2358,"v":-5.5,"d":"S"},{"c":15,"p":2368,"v":-3.2,"d":"S"},{"c":15,"p":2378,"v":-6.4,"d":"S"},{"c":15,"p":2388,"v":-2.7,"d":"S"},{"c":15,"p":2396,"v":-4.5,"d":"S"},
      {"c":16,"p":2405,"v":2.7,"d":"S"},{"c":16,"p":2420,"v":3.8,"d":"S"},{"c":16,"p":2435,"v":2.4,"d":"S"},{"c":16,"p":2450,"v":4.5,"d":"S"},{"c":16,"p":2470,"v":3.1,"d":"S"},{"c":16,"p":2484,"v":2.6,"d":"S"},
      {"c":16,"p":2408,"v":-3.4,"d":"S"},{"c":16,"p":2425,"v":-2.5,"d":"S"},{"c":16,"p":2440,"v":-4.6,"d":"S"},{"c":16,"p":2460,"v":-3.0,"d":"S"},{"c":16,"p":2475,"v":-5.4,"d":"S"},{"c":16,"p":2480,"v":-6.9,"d":"S"},
      {"c":17,"p":2493,"v":3.4,"d":"S"},{"c":17,"p":2500,"v":2.5,"d":"S"},{"c":17,"p":2507,"v":4.6,"d":"S"},{"c":17,"p":2514,"v":2.8,"d":"S"},{"c":17,"p":2521,"v":3.9,"d":"S"},{"c":17,"p":2528,"v":5.7,"d":"S"},{"c":17,"p":2535,"v":2.6,"d":"S"},{"c":17,"p":2542,"v":3.2,"d":"S"},{"c":17,"p":2549,"v":4.4,"d":"S"},{"c":17,"p":2556,"v":2.4,"d":"S"},{"c":17,"p":2563,"v":3.6,"d":"S"},
      {"c":17,"p":2495,"v":-2.7,"d":"S"},{"c":17,"p":2502,"v":-4.0,"d":"S"},{"c":17,"p":2509,"v":-2.5,"d":"S"},{"c":17,"p":2516,"v":-5.4,"d":"S"},{"c":17,"p":2523,"v":-3.3,"d":"S"},{"c":17,"p":2530,"v":-6.6,"d":"S"},{"c":17,"p":2537,"v":-2.8,"d":"S"},{"c":17,"p":2544,"v":-4.6,"d":"S"},{"c":17,"p":2551,"v":-3.1,"d":"S"},{"c":17,"p":2558,"v":-5.1,"d":"S"},{"c":17,"p":2565,"v":-2.6,"d":"S"},{"c":17,"p":2567,"v":-8.3,"d":"S"},
      {"c":18,"p":2580,"v":2.8,"d":"S"},{"c":18,"p":2600,"v":4.2,"d":"S"},{"c":18,"p":2620,"v":2.5,"d":"S"},{"c":18,"p":2640,"v":3.5,"d":"S"},{"c":18,"p":2585,"v":-3.1,"d":"S"},{"c":18,"p":2605,"v":-2.5,"d":"S"},{"c":18,"p":2625,"v":-4.4,"d":"S"},{"c":18,"p":2640,"v":-8.0,"d":"S"},{"c":18,"p":2645,"v":-3.0,"d":"S"},
      {"c":19,"p":2654,"v":3.5,"d":"S"},{"c":19,"p":2656,"v":8.1,"d":"S"},{"c":19,"p":2659,"v":2.6,"d":"S"},{"c":19,"p":2663,"v":4.6,"d":"S"},{"c":19,"p":2667,"v":2.9,"d":"S"},{"c":19,"p":2671,"v":3.8,"d":"S"},{"c":19,"p":2675,"v":2.4,"d":"S"},{"c":19,"p":2679,"v":5.3,"d":"S"},{"c":19,"p":2683,"v":3.1,"d":"S"},{"c":19,"p":2688,"v":2.7,"d":"S"},{"c":19,"p":2693,"v":4.1,"d":"S"},{"c":19,"p":2698,"v":2.5,"d":"S"},{"c":19,"p":2704,"v":3.4,"d":"S"},
      {"c":19,"p":2655,"v":-2.6,"d":"S"},{"c":19,"p":2658,"v":-4.3,"d":"S"},{"c":19,"p":2659,"v":-6.8,"d":"S"},{"c":19,"p":2661,"v":-3.1,"d":"S"},{"c":19,"p":2664,"v":-5.6,"d":"S"},{"c":19,"p":2667,"v":-2.5,"d":"S"},{"c":19,"p":2670,"v":-3.8,"d":"S"},{"c":19,"p":2673,"v":-6.2,"d":"S"},{"c":19,"p":2676,"v":-2.8,"d":"S"},{"c":19,"p":2679,"v":-4.7,"d":"S"},{"c":19,"p":2682,"v":-3.4,"d":"S"},{"c":19,"p":2685,"v":-2.4,"d":"S"},{"c":19,"p":2688,"v":-5.1,"d":"S"},{"c":19,"p":2691,"v":-3.0,"d":"S"},{"c":19,"p":2694,"v":-4.0,"d":"S"},{"c":19,"p":2697,"v":-2.6,"d":"S"},{"c":19,"p":2700,"v":-8.7,"d":"S"},{"c":19,"p":2701,"v":-3.6,"d":"S"},{"c":19,"p":2705,"v":-2.7,"d":"S"},{"c":19,"p":2709,"v":-9.3,"d":"S"},{"c":19,"p":2710,"v":-4.9,"d":"S"},
      {"c":20,"p":2720,"v":3.0,"d":"S"},{"c":20,"p":2738,"v":2.4,"d":"S"},{"c":20,"p":2755,"v":4.2,"d":"S"},{"c":20,"p":2768,"v":2.7,"d":"S"},{"c":20,"p":2722,"v":-2.9,"d":"S"},{"c":20,"p":2740,"v":-4.0,"d":"S"},{"c":20,"p":2758,"v":-2.5,"d":"S"},{"c":20,"p":2770,"v":-3.4,"d":"S"},
      {"c":21,"p":2790,"v":2.6,"d":"S"},{"c":21,"p":2803,"v":8.4,"d":"S"},{"c":21,"p":2810,"v":3.5,"d":"S"},{"c":21,"p":2795,"v":-3.0,"d":"S"},{"c":21,"p":2815,"v":-2.4,"d":"S"},
      {"c":22,"p":2830,"v":2.9,"d":"S"},{"c":22,"p":2848,"v":3.8,"d":"S"},{"c":22,"p":2862,"v":2.4,"d":"S"},{"c":22,"p":2835,"v":-2.6,"d":"S"},{"c":22,"p":2855,"v":-3.7,"d":"S"},{"c":22,"p":2868,"v":-2.8,"d":"S"},
      {"c":23,"p":2890,"v":2.5,"d":"S"},{"c":23,"p":2925,"v":3.4,"d":"S"},{"c":23,"p":2960,"v":2.7,"d":"S"},{"c":23,"p":3000,"v":4.1,"d":"S"},{"c":23,"p":3020,"v":4.6,"d":"S"},{"c":23,"p":2880,"v":-3.0,"d":"S"},{"c":23,"p":2940,"v":-2.5,"d":"S"},{"c":23,"p":2980,"v":-3.6,"d":"S"},{"c":23,"p":3010,"v":-5.3,"d":"S"}
    ],
    "genes": [
      {"g":"LINC01355","x":37,"y":8.5},{"g":"ENSG00000248774","x":557,"y":9.45},{"g":"CD69","x":1814,"y":8.37},{"g":"NRG4","x":2232,"y":7.36},{"g":"SAFB","x":2514,"y":7.23},{"g":"SCAF4","x":2817,"y":9.2},
      {"g":"PTAFR","x":21,"y":-7.1},{"g":"BTG2","x":218,"y":-9.6},{"g":"IL1B","x":377,"y":-10.5},{"g":"CCR3","x":543,"y":-12.7},{"g":"TLR1","x":738,"y":-8.0},{"g":"CD83","x":933,"y":-14.15},
      {"g":"STX11","x":1048,"y":-8.44},{"g":"SGK1","x":1200,"y":-10.4},{"g":"EGR3","x":1265,"y":-8.44},{"g":"TRIB1","x":1525,"y":-10.0},{"g":"EGR2","x":1727,"y":-12.5},{"g":"PLEKHG6","x":1770,"y":-11.6},
      {"g":"DUSP6","x":1871,"y":-9.5},{"g":"C16orf54","x":2254,"y":-7.23},{"g":"CD300LB","x":2254,"y":-8.73},{"g":"PMAIP1","x":2442,"y":-10.1},{"g":"DDX39A","x":2673,"y":-7.23},{"g":"PTOV1−AS1","x":2709,"y":-8.73},
      {"g":"ENSG00000250349","x":2651,"y":-10.25}
    ],
    "leaders": [
      {"x":2485,"y":-8.7,"x2":2567,"y2":-8.3},{"x":2628,"y":-9.5,"x2":2640,"y2":-8.1}
    ],
    "nes": [
      {"path":"Ribosome","s":2.711,"dir":"Up-regulated","pct":19},
      {"path":"Proteasome Complex","s":1.884,"dir":"Up-regulated","pct":18},{"path":"Proteasome Complex","s":1.972,"dir":"Up-regulated","pct":16},
      {"path":"Programmed cell death","s":1.739,"dir":"Up-regulated","pct":13},
      {"path":"Oxidative phosphorylation","s":1.946,"dir":"Up-regulated","pct":9},{"path":"Oxidative phosphorylation","s":2.215,"dir":"Up-regulated","pct":13},
      {"path":"Neurodegenerative diseases","s":1.806,"dir":"Up-regulated","pct":13},{"path":"Neurodegenerative diseases","s":2.105,"dir":"Up-regulated","pct":13},{"path":"Neurodegenerative diseases","s":2.362,"dir":"Up-regulated","pct":13},
      {"path":"Metabolism of RNA","s":1.699,"dir":"Up-regulated","pct":13},{"path":"Metabolism of RNA","s":2.321,"dir":"Up-regulated","pct":13},{"path":"Metabolism of RNA","s":2.489,"dir":"Up-regulated","pct":14},{"path":"Metabolism of RNA","s":2.591,"dir":"Up-regulated","pct":15},
      {"path":"Metabolism of proteins","s":2.084,"dir":"Up-regulated","pct":13},{"path":"Metabolism of proteins","s":2.27,"dir":"Up-regulated","pct":13},{"path":"Metabolism of proteins","s":2.328,"dir":"Up-regulated","pct":13},{"path":"Metabolism of proteins","s":2.646,"dir":"Up-regulated","pct":15},{"path":"Metabolism of proteins","s":2.668,"dir":"Up-regulated","pct":15},{"path":"Metabolism of proteins","s":2.685,"dir":"Up-regulated","pct":15},{"path":"Metabolism of proteins","s":2.723,"dir":"Up-regulated","pct":15},
      {"path":"Metabolism","s":1.683,"dir":"Up-regulated","pct":13},{"path":"Metabolism","s":1.898,"dir":"Up-regulated","pct":13},{"path":"Metabolism","s":1.964,"dir":"Up-regulated","pct":13},{"path":"Metabolism","s":2.143,"dir":"Up-regulated","pct":13},{"path":"Metabolism","s":2.237,"dir":"Up-regulated","pct":13},{"path":"Metabolism","s":2.238,"dir":"Up-regulated","pct":12},
      {"path":"Inflammatory response","s":1.922,"dir":"Down-regulated","pct":12},
      {"path":"Infectious diseases","s":1.824,"dir":"Up-regulated","pct":13},{"path":"Infectious diseases","s":1.869,"dir":"Down-regulated","pct":12},{"path":"Infectious diseases","s":2.388,"dir":"Up-regulated","pct":14},{"path":"Infectious diseases","s":2.465,"dir":"Up-regulated","pct":14},
      {"path":"Immune diseases","s":1.795,"dir":"Down-regulated","pct":12},{"path":"Immune diseases","s":1.847,"dir":"Down-regulated","pct":12},{"path":"Immune diseases","s":1.864,"dir":"Down-regulated","pct":14},
      {"path":"Diseases of cell signaling","s":1.742,"dir":"Up-regulated","pct":1.5},{"path":"Diseases of cell signaling","s":1.767,"dir":"Up-regulated","pct":1.5},
      {"path":"Cell signaling","s":1.78,"dir":"Down-regulated","pct":12},{"path":"Cell signaling","s":1.839,"dir":"Down-regulated","pct":13},{"path":"Cell signaling","s":1.858,"dir":"Down-regulated","pct":14},{"path":"Cell signaling","s":1.853,"dir":"Up-regulated","pct":6},{"path":"Cell signaling","s":1.962,"dir":"Down-regulated","pct":13},{"path":"Cell signaling","s":2.005,"dir":"Up-regulated","pct":11},
      {"path":"Cell cycle and DNA replication","s":1.713,"dir":"Up-regulated","pct":12},{"path":"Cell cycle and DNA replication","s":1.814,"dir":"Up-regulated","pct":12},{"path":"Cell cycle and DNA replication","s":1.937,"dir":"Up-regulated","pct":12},{"path":"Cell cycle and DNA replication","s":2.016,"dir":"Up-regulated","pct":13},
      {"path":"Cell cycle","s":1.855,"dir":"Up-regulated","pct":12},{"path":"Cell cycle","s":1.884,"dir":"Up-regulated","pct":13},{"path":"Cell cycle","s":1.887,"dir":"Down-regulated","pct":10},{"path":"Cell cycle","s":1.9,"dir":"Up-regulated","pct":12},{"path":"Cell cycle","s":1.923,"dir":"Up-regulated","pct":12},{"path":"Cell cycle","s":1.959,"dir":"Up-regulated","pct":12},
      {"path":"Adaptive immune system","s":1.767,"dir":"Down-regulated","pct":13},{"path":"Adaptive immune system","s":1.771,"dir":"Down-regulated","pct":10},{"path":"Adaptive immune system","s":1.837,"dir":"Down-regulated","pct":12},{"path":"Adaptive immune system","s":1.848,"dir":"Down-regulated","pct":10},{"path":"Adaptive immune system","s":1.975,"dir":"Up-regulated","pct":13},{"path":"Adaptive immune system","s":2.027,"dir":"Up-regulated","pct":13},{"path":"Adaptive immune system","s":2.167,"dir":"Up-regulated","pct":13}
    ]
  },
  "vconcat": [
    {
      "width": 439,
      "height": 68,
      "view": {"stroke": null},
      "title": {"text": "A", "anchor": "start", "frame": "bounds", "fontSize": 10.5, "fontWeight": "bold", "offset": -12, "dx": 3},
      "layer": [
        {
          "data": {"name": "tree"},
          "mark": {"type": "rule", "color": "#5a5a5a", "strokeWidth": 0.9},
          "encoding": {
            "x": {"field": "a", "type": "quantitative", "scale": {"domain": [7.11, 128.55], "nice": false, "zero": false}, "axis": null},
            "x2": {"field": "b"},
            "y": {"field": "h", "type": "quantitative", "scale": {"domain": [-9, 59], "nice": false, "zero": false}, "axis": null}
          }
        },
        {
          "data": {"name": "tree"},
          "mark": {"type": "rule", "color": "#5a5a5a", "strokeWidth": 0.9},
          "encoding": {
            "x": {"field": "a", "type": "quantitative"},
            "y": {"field": "ha", "type": "quantitative"},
            "y2": {"field": "h"}
          }
        },
        {
          "data": {"name": "tree"},
          "mark": {"type": "rule", "color": "#5a5a5a", "strokeWidth": 0.9},
          "encoding": {
            "x": {"field": "b", "type": "quantitative"},
            "y": {"field": "hb", "type": "quantitative"},
            "y2": {"field": "h"}
          }
        },
        {
          "data": {"name": "leaves"},
          "mark": {"type": "point", "filled": true, "opacity": 1, "size": 14},
          "encoding": {
            "x": {"field": "i", "type": "quantitative"},
            "y": {"datum": 0, "type": "quantitative"},
            "color": {
              "field": "g", "type": "nominal",
              "scale": {"domain": ["y", "n"], "range": ["#17a583", "#000000"]},
              "legend": {"title": null, "orient": "none", "legendX": 58, "legendY": -21, "direction": "horizontal", "symbolSize": 64, "symbolType": "circle", "labelFontSize": 11, "labelOffset": 3, "columnPadding": 5, "labelColor": "#000000",
                "labelExpr": "datum.value == 'y' ? 'Clustered by individual ID' : 'Did not cluster by individual ID'"}
            }
          }
        }
      ]
    },
    {
      "width": 438,
      "height": 166,
      "title": {"text": "B", "anchor": "start", "frame": "bounds", "fontSize": 10.5, "fontWeight": "bold", "offset": 0, "dx": 2, "dy": 14},
      "data": {"name": "snp"},
      "layer": [
        {
          "transform": [{"filter": "datum.c % 2 == 0"}],
          "mark": {"type": "circle", "opacity": 1},
          "encoding": {
            "x": {"field": "p", "type": "quantitative", "scale": {"domain": [-35, 3128], "nice": false, "zero": false},
              "axis": {"values": [124.5,370,590,784,970,1146.5,1311.5,1463.5,1605,1741,1875.5,2009.5,2133,2243.5,2348,2444,2530.5,2612,2681.5,2743,2798.5,2847.5,2951,3057.5,3088],
                "labels": false, "title": "Chromosome", "titleFontSize": 10.5, "titlePadding": 7, "tickSize": 2.5, "grid": true}},
            "y": {"field": "v", "type": "quantitative", "scale": {"domain": [-15, 15], "nice": false, "zero": false},
              "axis": {"values": [-15,-10,-5,0,5,10,15], "title": "−log₁₀ (p) x sign (β)", "titleFontSize": 10.5, "titlePadding": 4, "labelFontSize": 6.5, "labelPadding": 1, "tickSize": 2.5, "grid": true}},
            "color": {"field": "d", "type": "nominal", "scale": {"domain": ["N", "S"], "range": ["#a9a9a9", "#d48bbd"]}, "legend": null},
            "size": {"condition": {"test": "datum.d == 'S'", "value": 9}, "value": 8}
          }
        },
        {
          "transform": [{"filter": "datum.c % 2 == 1"}],
          "mark": {"type": "circle", "opacity": 1},
          "encoding": {
            "x": {"field": "p", "type": "quantitative"},
            "y": {"field": "v", "type": "quantitative"},
            "color": {"field": "d", "type": "nominal", "scale": {"domain": ["N", "S"], "range": ["#000000", "#e31a1c"]},
              "legend": {"title": null, "orient": "none", "legendX": 164, "legendY": 4, "direction": "horizontal", "symbolSize": 22, "symbolType": "circle", "labelFontSize": 8.7, "labelOffset": 2, "columnPadding": 4, "labelColor": "#000000",
                "labelExpr": "datum.value == 'N' ? 'Not DE' : 'Significantly DE'"}},
            "size": {"value": 9}
          }
        },
        {
          "mark": {"type": "rule", "color": "#4d4d4d", "strokeWidth": 1.1},
          "encoding": {"y": {"datum": 0, "type": "quantitative"}}
        },
        {
          "data": {"name": "leaders"},
          "mark": {"type": "rule", "color": "#333333", "strokeWidth": 0.6},
          "encoding": {
            "x": {"field": "x", "type": "quantitative"},
            "x2": {"field": "x2"},
            "y": {"field": "y", "type": "quantitative"},
            "y2": {"field": "y2"}
          }
        },
        {
          "data": {"name": "genes"},
          "mark": {"type": "text", "align": "left", "baseline": "middle", "fontSize": 7.3, "color": "#1a1a1a"},
          "encoding": {
            "x": {"field": "x", "type": "quantitative"},
            "y": {"field": "y", "type": "quantitative"},
            "text": {"field": "g"}
          }
        },
        {
          "data": {"name": "chroms"},
          "mark": {"type": "text", "align": "center", "baseline": "top", "dy": 3, "fontSize": 6.5, "color": "#4d4d4d"},
          "encoding": {
            "x": {"field": "m", "type": "quantitative"},
            "y": {"datum": -15, "type": "quantitative"},
            "text": {"field": "n"}
          }
        }
      ],
      "resolve": {"scale": {"color": "independent"}, "legend": {"color": "independent"}}
    },
    {
      "width": 439,
      "height": 166,
      "view": {"stroke": null},
      "title": {"text": "C", "anchor": "start", "frame": "bounds", "fontSize": 10.5, "fontWeight": "bold", "offset": 0, "dx": 1, "dy": 12},
      "data": {"name": "nes"},
      "layer": [
        {
          "transform": [{"aggregate": [{"op": "count", "as": "n"}], "groupby": ["path"]}],
          "mark": {"type": "rule", "color": "#ebebeb", "strokeWidth": 1},
          "encoding": {
            "y": {"field": "path", "type": "nominal", "axis": null,
              "sort": ["Ribosome","Proteasome Complex","Programmed cell death","Oxidative phosphorylation","Neurodegenerative diseases","Metabolism of RNA","Metabolism of proteins","Metabolism","Inflammatory response","Infectious diseases","Immune diseases","Diseases of cell signaling","Cell signaling","Cell cycle and DNA replication","Cell cycle","Adaptive immune system"]},
            "x": {"datum": 1.632, "type": "quantitative"},
            "x2": {"datum": 2.778}
          }
        },
        {
          "transform": [{"aggregate": [{"op": "count", "as": "n"}], "groupby": ["path"]}],
          "mark": {"type": "rule", "color": "#4d4d4d", "strokeWidth": 1},
          "encoding": {
            "y": {"field": "path", "type": "nominal",
              "sort": ["Ribosome","Proteasome Complex","Programmed cell death","Oxidative phosphorylation","Neurodegenerative diseases","Metabolism of RNA","Metabolism of proteins","Metabolism","Inflammatory response","Infectious diseases","Immune diseases","Diseases of cell signaling","Cell signaling","Cell cycle and DNA replication","Cell cycle","Adaptive immune system"]},
            "x": {"datum": 1.624, "type": "quantitative"},
            "x2": {"datum": 1.632}
          }
        },
        {
          "transform": [{"aggregate": [{"op": "count", "as": "n"}]}],
          "mark": {"type": "rect", "fillOpacity": 0, "stroke": "#a6a6a6", "strokeWidth": 1},
          "encoding": {
            "x": {"datum": 1.632, "type": "quantitative"},
            "x2": {"datum": 2.778}
          }
        },
        {
          "mark": {"type": "point", "filled": true, "color": "#595959", "opacity": 0.75},
          "encoding": {
            "x": {"field": "s", "type": "quantitative", "scale": {"domain": [1.311, 2.778], "nice": false, "zero": false},
              "axis": {"values": [1.75, 2.0, 2.25, 2.5, 2.75], "format": ".2f", "title": "Absolute normalized enrichment score", "titleX": 267, "titleFontSize": 8, "titlePadding": 0, "labelFontSize": 6.5, "labelPadding": 1, "tickSize": 2.5, "grid": true}},
            "y": {"field": "path", "type": "nominal",
              "sort": ["Ribosome","Proteasome Complex","Programmed cell death","Oxidative phosphorylation","Neurodegenerative diseases","Metabolism of RNA","Metabolism of proteins","Metabolism","Inflammatory response","Infectious diseases","Immune diseases","Diseases of cell signaling","Cell signaling","Cell cycle and DNA replication","Cell cycle","Adaptive immune system"]},
            "shape": {"field": "dir", "type": "nominal", "scale": {"domain": ["Down-regulated", "Up-regulated"], "range": ["square", "circle"]},
              "legend": {"title": null, "orient": "none", "legendX": 354, "legendY": 90, "symbolSize": 14, "symbolFillColor": "#6b6b6b", "symbolStrokeWidth": 0, "labelFontSize": 9, "labelOffset": 6, "rowPadding": 0}},
            "size": {"field": "pct", "type": "quantitative", "scale": {"domain": [0, 20], "range": [0, 40], "zero": true},
              "legend": {"title": "% DE genes", "titleFontSize": 9, "titleFontWeight": "normal", "titleColor": "#1a1a1a", "orient": "none", "legendX": 355, "legendY": 112, "values": [5, 10, 20], "labelExpr": "datum.value + '%'", "symbolType": "square", "symbolFillColor": "#6b6b6b", "symbolStrokeWidth": 0, "labelFontSize": 9, "labelOffset": 6, "rowPadding": 0, "titlePadding": 3}}
          }
        },
        {
          "transform": [{"aggregate": [{"op": "count", "as": "n"}], "groupby": ["path"]}],
          "mark": {"type": "text", "align": "right", "baseline": "middle", "dx": -4, "fontSize": 9, "color": "#1a1a1a"},
          "encoding": {
            "y": {"field": "path", "type": "nominal",
              "sort": ["Ribosome","Proteasome Complex","Programmed cell death","Oxidative phosphorylation","Neurodegenerative diseases","Metabolism of RNA","Metabolism of proteins","Metabolism","Inflammatory response","Infectious diseases","Immune diseases","Diseases of cell signaling","Cell signaling","Cell cycle and DNA replication","Cell cycle","Adaptive immune system"]},
            "x": {"datum": 1.632, "type": "quantitative"},
            "text": {"field": "path"}
          }
        }
      ]
    }
  ]
}
